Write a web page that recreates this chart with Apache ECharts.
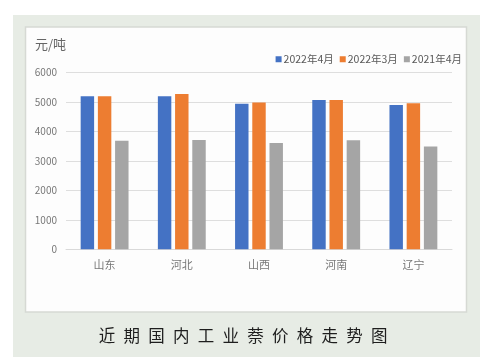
<!DOCTYPE html>
<html><head><meta charset="utf-8">
<script src="https://cdn.jsdelivr.net/npm/echarts@6/dist/echarts.min.js"></script>
<style>html,body{margin:0;padding:0;background:#fff}#c{width:486px;height:362px}</style>
</head><body><div id="c"></div>
<script>
const categories = ['山东','河北','山西','河南','辽宁'];
const seriesNames = ['2022年4月','2022年3月','2021年4月'];
const apr2022 = [5190, 5190, 4940, 5070, 4900];
const mar2022 = [5190, 5270, 4980, 5065, 4960];
const apr2021 = [3680, 3710, 3610, 3700, 3490];
const yTicks = [0, 1000, 2000, 3000, 4000, 5000, 6000];
const chartTitle = '近期国内工业萘价格走势图';
const unitLabel = '元/吨';
const colors = ['#4472C4', '#ED7D31', '#A5A5A5'];
const font = '"Noto Sans CJK SC", "Noto Sans", sans-serif';

const chart = echarts.init(document.getElementById('c'));
chart.setOption({
  animation: false,
  textStyle: {fontFamily: font},
  graphic: [
    {type: 'rect', z: -10, shape: {x: 13, y: 15, width: 467, height: 342}, style: {fill: '#e7ece5'}},
    {type: 'rect', z: -9, shape: {x: 25.5, y: 27, width: 441, height: 285}, style: {fill: '#fdfdfd', stroke: '#d6d9d4', lineWidth: 1.5}},
    {type: 'text', left: 35, top: 38, style: {text: unitLabel, fill: '#666', font: '13px ' + font}}
  ],
  title: {
    text: chartTitle.split('').join('\u2002'),
    left: 'center', top: 322,
    textStyle: {fontSize: 16.5, fontWeight: 'normal', color: '#1e1e1e', fontFamily: font}
  },
  legend: {
    data: seriesNames, right: 19, top: 49, itemWidth: 6, itemHeight: 6, itemGap: 6,
    icon: 'rect',
    textStyle: {fontSize: 10.5, color: '#595959', padding: [0, 0, 0, -3]}
  },
  grid: {left: 66, right: 34, top: 72.5, bottom: 112.7},
  xAxis: {
    type: 'category', data: categories,
    axisLine: {lineStyle: {color: '#d9d9d9'}},
    axisTick: {show: false},
    axisLabel: {color: '#777', fontSize: 11, margin: 10}
  },
  yAxis: {
    type: 'value', min: yTicks[0], max: yTicks[yTicks.length - 1], interval: 1000,
    axisLine: {show: false}, axisTick: {show: false},
    splitLine: {lineStyle: {color: '#dedede'}},
    axisLabel: {color: '#777', fontSize: 10, margin: 9, formatter: v => String(v)}
  },
  series: [apr2022, mar2022, apr2021].map((d, i) => ({
    name: seriesNames[i], type: 'bar', data: d,
    itemStyle: {color: colors[i]},
    barGap: '28%', barCategoryGap: '38%'
  }))
});
</script></body></html>
